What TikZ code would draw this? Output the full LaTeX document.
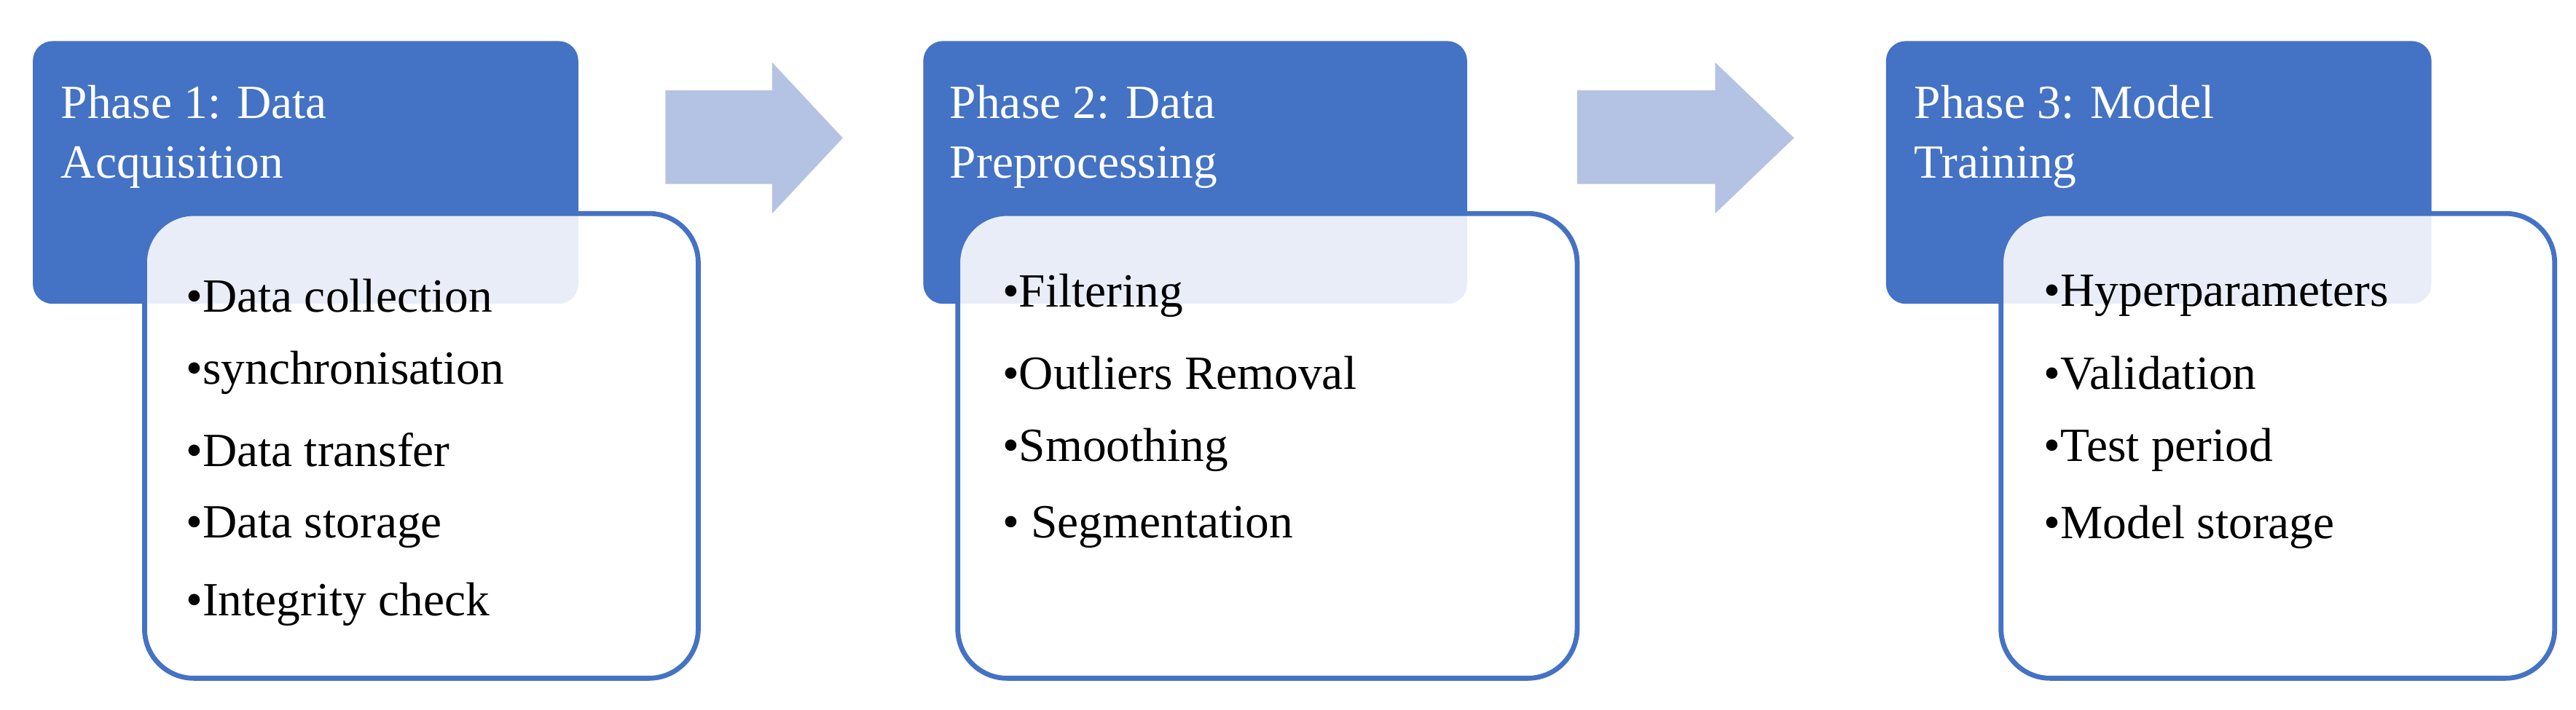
\documentclass[tikz,border=0pt]{standalone}
\usepackage{fontspec}
\setmainfont{Liberation Serif}
\usetikzlibrary{positioning}
\definecolor{pb}{HTML}{4472C4}
\definecolor{pa}{HTML}{B4C3E3}
\begin{document}
\begin{tikzpicture}[x=1pt,y=-1pt,
 head/.style={fill=pb,draw=none,rounded corners=12},
 body/.style={fill=white,fill opacity=0.88,draw=pb,line width=3pt,rounded corners=30},
 ttl/.style={anchor=west,font=\fontsize{29}{35}\selectfont,text=white,inner sep=0},
 itm/.style={anchor=west,font=\fontsize{29}{35}\selectfont,inner sep=0},
 arr/.style={fill=pa,draw=none}]
\useasboundingbox (0,0) rectangle (1568,432);
% phase 1
\path[head] (20,25) rectangle (352,185);
\node[ttl] (t1a) at (37,62) {Phase 1: Data};
\node[ttl] (t1b) at (37,102) {Acquisition};
\path[body] (88,130) rectangle (425,413);
\foreach \t [count=\i] in {Data collection,synchronisation,Data transfer,Data storage,Integrity check}
  \node[itm] (a\i) at (113,180+47*\i-47) {•\t};
% arrow 1
\path[arr] (405,55) -- (470,55) -- (470,38) -- (513,84) -- (470,130) -- (470,112) -- (405,112) -- cycle;
% phase 2
\path[head] (562,25) rectangle (893,185);
\node[ttl] (t2a) at (578,62) {Phase 2: Data};
\node[ttl] (t2b) at (578,102) {Preprocessing};
\path[body] (583,130) rectangle (960,413);
\foreach \t [count=\i] in {Filtering,Outliers Removal,Smoothing,{ Segmentation}}
  \node[itm] (b\i) at (610,180+47*\i-47) {•\t};
% arrow 2
\path[arr] (960,55) -- (1044,55) -- (1044,38) -- (1092,84) -- (1044,130) -- (1044,112) -- (960,112) -- cycle;
% phase 3
\path[head] (1148,25) rectangle (1480,185);
\node[ttl] (t3a) at (1165,62) {Phase 3: Model};
\node[ttl] (t3b) at (1165,102) {Training};
\path[body] (1218,130) rectangle (1555,413);
\foreach \t [count=\i] in {Hyperparameters,Validation,Test period,Model storage}
  \node[itm] (c\i) at (1244,180+47*\i-47) {•\t};
\end{tikzpicture}
\end{document}
